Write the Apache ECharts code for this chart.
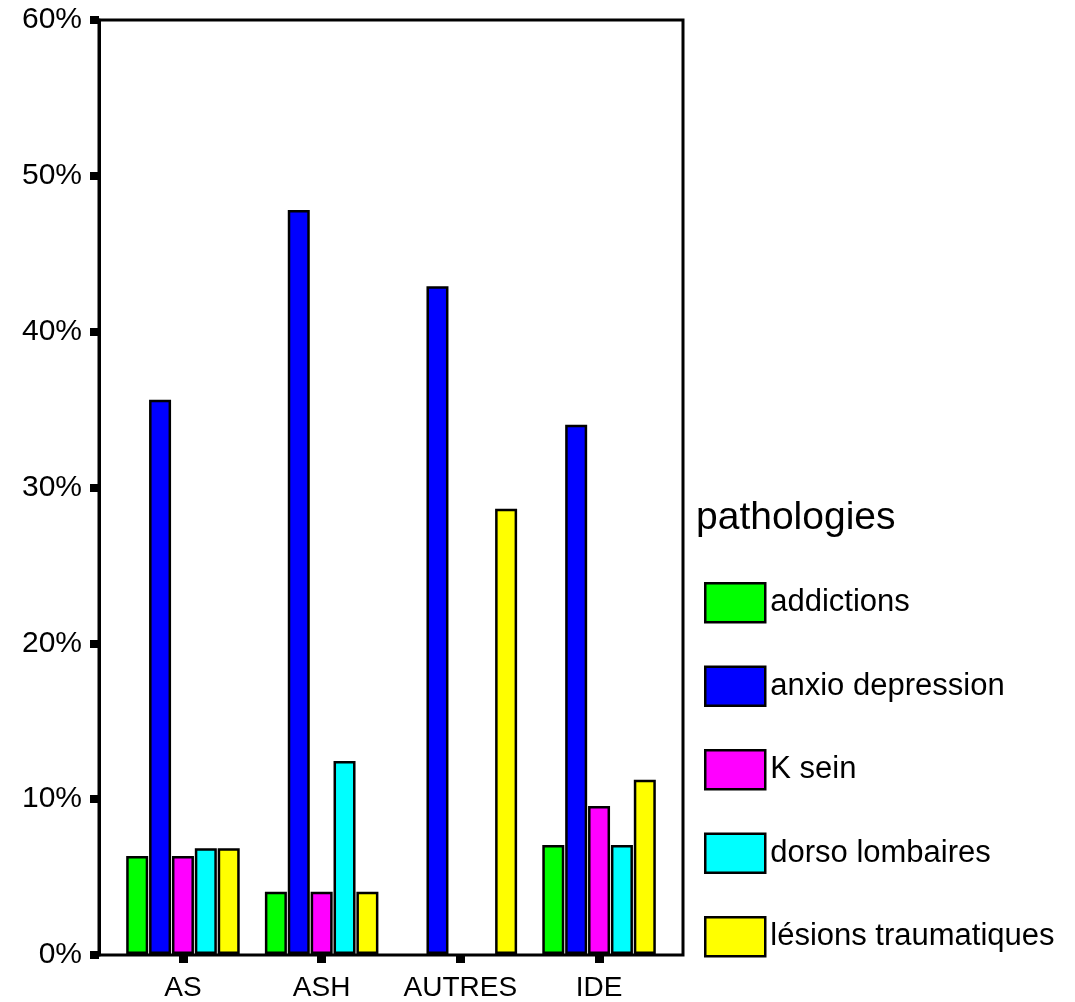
<!DOCTYPE html>
<html>
<head>
<meta charset="utf-8">
<script src="https://cdn.jsdelivr.net/npm/echarts@6/dist/echarts.min.js"></script>
<style>html,body{margin:0;padding:0;background:#fff;}#c{width:1075px;height:1002px;}</style>
</head>
<body>
<div id="c"></div>
<script>
const categories = ['AS', 'ASH', 'AUTRES', 'IDE'];
const seriesNames = ['addictions', 'anxio depression', 'K sein', 'dorso lombaires', 'lésions traumatiques'];
const addictions = [6.3, 4.0, null, 7.0];
const anxioDepression = [35.6, 47.8, 42.9, 34.0];
const kSein = [6.3, 4.0, null, 9.5];
const dorsoLombaires = [6.8, 12.4, null, 7.0];
const lesionsTraumatiques = [6.8, 4.0, 28.6, 11.2];
const yTicks = [0, 10, 20, 30, 40, 50, 60];
const colors = ['#00ff00', '#0000ff', '#ff00ff', '#00ffff', '#ffff00'];
const values = [addictions, anxioDepression, kSein, dorsoLombaires, lesionsTraumatiques];

const FONT = 'Liberation Sans, Arial, Helvetica, sans-serif';
const chart = echarts.init(document.getElementById('c'), null, {renderer: 'canvas'});
const option = {
  backgroundColor: '#fff',
  animation: false,
  title: {
    text: 'pathologies',
    left: 696, top: 499, padding: 0,
    textStyle: {fontFamily: FONT, fontSize: 39, fontWeight: 'normal', color: '#000'}
  },
  legend: {
    orient: 'vertical',
    left: 704, top: 582, padding: 0,
    itemWidth: 60, itemHeight: 39, itemGap: 42,
    icon: 'rect',
    itemStyle: {borderColor: '#000', borderWidth: 2.5},
    textStyle: {fontFamily: FONT, fontSize: 31, color: '#000'},
    data: seriesNames
  },
  grid: [
    {left: 99, top: 20, width: 584, height: 935, show: true, borderColor: '#000', borderWidth: 3, backgroundColor: 'transparent'},
    {left: 113.6, top: 20, width: 554.8, height: 935}
  ],
  xAxis: [
    {gridIndex: 0, type: 'value', show: false, min: 0, max: 1},
    {
      gridIndex: 1, type: 'category', data: categories,
      axisLine: {show: false},
      axisTick: {show: true, alignWithLabel: true, length: 9, lineStyle: {color: '#000', width: 9}},
      axisLabel: {interval: 0, fontFamily: FONT, fontSize: 28, color: '#000', margin: 20}
    }
  ],
  yAxis: [
    {
      gridIndex: 0, type: 'value', min: 0, max: 60, interval: 10,
      axisLine: {show: true, lineStyle: {color: '#000', width: 3}},
      axisTick: {show: true, length: 9, lineStyle: {color: '#000', width: 8}},
      splitLine: {show: false},
      axisLabel: {fontFamily: FONT, fontSize: 30, color: '#000', margin: 17,
        formatter: function (v) { return yTicks.indexOf(v) >= 0 ? v + '%' : ''; }}
    },
    {gridIndex: 1, type: 'value', min: 0, max: 60, show: false}
  ],
  series: seriesNames.map(function (name, i) {
    return {
      name: name, type: 'bar', xAxisIndex: 1, yAxisIndex: 1,
      data: values[i],
      barWidth: 22, barGap: '4%',
      itemStyle: {color: colors[i], borderColor: '#000', borderWidth: 2.5}
    };
  })
};
chart.setOption(option);
</script>
</body>
</html>
